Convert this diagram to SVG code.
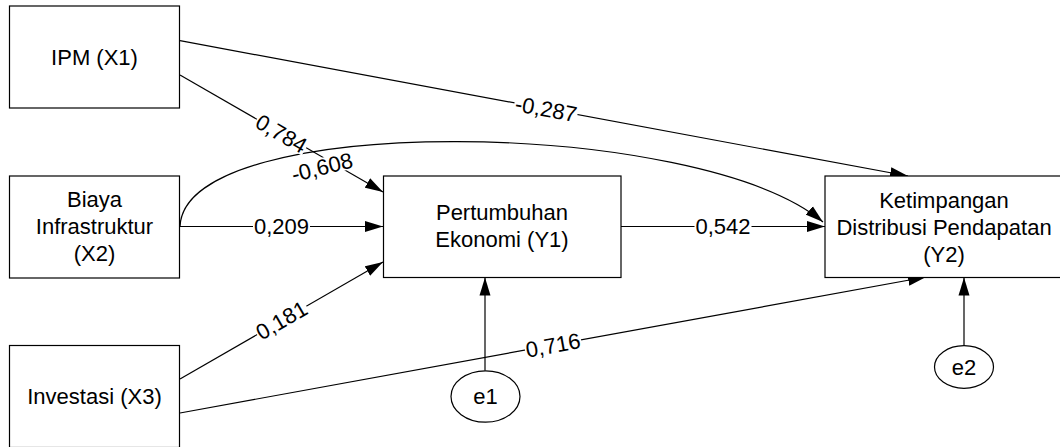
<svg xmlns="http://www.w3.org/2000/svg" width="1060" height="447" viewBox="0 0 1060 447">
<style>
.box{fill:#fff;stroke:#000;stroke-width:1.2}
.t{font-family:"Liberation Sans",Arial,sans-serif;font-size:22px;fill:#000;text-anchor:middle}
.ln{fill:none;stroke:#000;stroke-width:1.2}
.bg{fill:#fff;stroke:none}
</style>
<defs>
<marker id="ah" markerUnits="userSpaceOnUse" markerWidth="18" markerHeight="12" refX="18" refY="6" orient="auto" viewBox="0 0 18 12">
<path d="M0,0.5 L18,6 L0,11.5 Z" fill="#000"/>
</marker>
</defs>
<rect width="1060" height="447" fill="#fff"/>
<g id="connectors">
<line class="ln" x1="180" y1="40.7" x2="908" y2="176" marker-end="url(#ah)"/>
<line class="ln" x1="180" y1="75" x2="383" y2="192" marker-end="url(#ah)"/>
<path class="ln" d="M180,226.5 C185,110 700,118 823,222" marker-end="url(#ah)"/>
<line class="ln" x1="180" y1="226.5" x2="383" y2="226.5" marker-end="url(#ah)"/>
<line class="ln" x1="180" y1="379" x2="383" y2="262" marker-end="url(#ah)"/>
<line class="ln" x1="180" y1="413" x2="926" y2="277" marker-end="url(#ah)"/>
<line class="ln" x1="621" y1="226.5" x2="825" y2="226.5" marker-end="url(#ah)"/>
<line class="ln" x1="485" y1="370.7" x2="485" y2="277.5" marker-end="url(#ah)"/>
<line class="ln" x1="964" y1="345.5" x2="964" y2="277.5" marker-end="url(#ah)"/>
<g transform="translate(546,108.8) rotate(10.5)"><rect class="bg" x="-32" y="-9" width="64" height="18"/><text class="t" y="0" dy="0.36em">-0,287</text></g>
<g transform="translate(281.5,133.5) rotate(30)"><rect class="bg" x="-28.5" y="-9" width="57" height="18"/><text class="t" y="0" dy="0.36em">0,784</text></g>
<g transform="translate(322,167) rotate(-14)"><rect class="bg" x="-32" y="-9" width="64" height="18"/><text class="t" y="0" dy="0.36em">-0,608</text></g>
<g transform="translate(281.5,226.5)"><rect class="bg" x="-28.5" y="-9" width="57" height="18"/><text class="t" y="0" dy="0.36em">0,209</text></g>
<g transform="translate(281.5,320) rotate(-30)"><rect class="bg" x="-28.5" y="-9" width="57" height="18"/><text class="t" y="0" dy="0.36em">0,181</text></g>
<g transform="translate(553,345) rotate(-10.3)"><rect class="bg" x="-28.5" y="-9" width="57" height="18"/><text class="t" y="0" dy="0.36em">0,716</text></g>
<g transform="translate(723,226.5)"><rect class="bg" x="-28.5" y="-9" width="57" height="18"/><text class="t" y="0" dy="0.36em">0,542</text></g>
</g>
<g id="x1"><rect class="box" x="9.5" y="6" width="170" height="102"/><text class="t" x="94.5" y="65">IPM (X1)</text></g>
<g id="x2"><rect class="box" x="9.5" y="176" width="170" height="102"/><text class="t" x="94.5" y="207">Biaya</text><text class="t" x="94.5" y="234">Infrastruktur</text><text class="t" x="94.5" y="261">(X2)</text></g>
<g id="x3"><rect class="box" x="9.5" y="345.5" width="170" height="102"/><text class="t" x="94.5" y="404">Investasi (X3)</text></g>
<g id="y1"><rect class="box" x="383.5" y="176" width="237.5" height="101.5"/><text class="t" x="502" y="220">Pertumbuhan</text><text class="t" x="502" y="247">Ekonomi (Y1)</text></g>
<g id="y2"><rect class="box" x="825" y="176" width="240" height="101.5"/><text class="t" x="944" y="208">Ketimpangan</text><text class="t" x="944" y="235">Distribusi Pendapatan</text><text class="t" x="944" y="262">(Y2)</text></g>
<g id="e1"><ellipse class="box" cx="485.5" cy="396.5" rx="34.5" ry="25.7"/><text class="t" x="485.5" y="404">e1</text></g>
<g id="e2"><ellipse class="box" cx="964" cy="367" rx="29.5" ry="21.3"/><text class="t" x="964" y="375">e2</text></g>
</svg>
